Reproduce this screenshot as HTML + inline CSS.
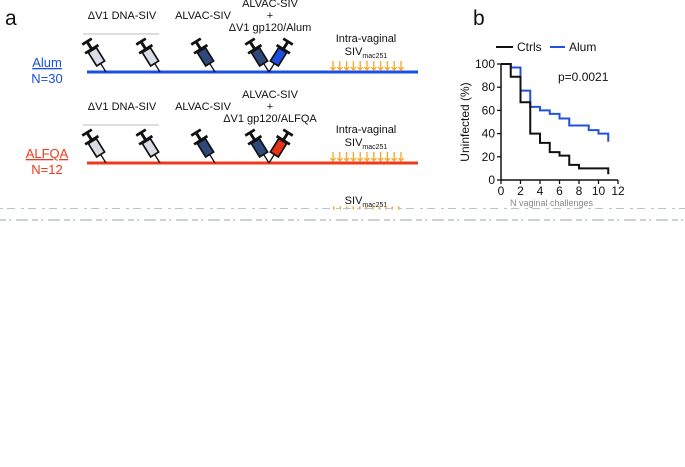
<!DOCTYPE html>
<html><head><meta charset="utf-8"><style>
html,body{margin:0;padding:0;background:#fff;}
svg{display:block;font-family:"Liberation Sans",sans-serif;}
</style></head><body>
<svg id="fig" width="685" height="467" viewBox="0 0 685 467">
<defs>
<g id="syr-base">
  <line x1="0" y1="0" x2="0" y2="-9" stroke="#111" stroke-width="1.2"/>
  <line x1="-7" y1="-24" x2="7" y2="-24" stroke="#111" stroke-width="2.4"/>
  <line x1="0" y1="-24" x2="0" y2="-31" stroke="#111" stroke-width="2.6"/>
  <line x1="-5" y1="-32" x2="5" y2="-32" stroke="#111" stroke-width="2.4"/>
</g>
</defs>
<text x="5" y="25" font-size="21" fill="#111">a</text>
<text x="473" y="25" font-size="21" fill="#111">b</text>
<g id="schem"></g>
<g id="chart"></g>
<g>
  <text x="366" y="204" font-size="11" text-anchor="middle" fill="#111">SIV<tspan font-size="7" dy="3">mac251</tspan></text>
  <line x1="333" y1="208" x2="402" y2="208" stroke="#f5a623" stroke-width="3" stroke-dasharray="1.5,5"/>
  <line x1="0" y1="208.5" x2="685" y2="208.5" stroke="#b8c4cc" stroke-width="1" stroke-dasharray="3,4,8,6"/>
  <line x1="0" y1="220" x2="685" y2="220" stroke="#b0b8c0" stroke-width="1.2" stroke-dasharray="6,3,2,5,12,4"/>
  <text x="510" y="206" font-size="9" fill="#888">N   vaginal challenges</text>
</g>
</svg>
<script>
var NS='http://www.w3.org/2000/svg';
var xTicks=[0,2,4,6,8,10,12];
var yTicks=[0,20,40,60,80,100];
var ctrlTimes=[0,1,2,3,4,5,6,7,8,11];
var ctrlVals=[100,89,67,40,32,24,21,13,10,5];
var alumTimes=[0,1,2,3,4,5,6,7,9,10,11];
var alumVals=[100,97,77,63,60,57,53,47,43,40,33];
var endTime=11;
function mk(tag,attrs,parent){var e=document.createElementNS(NS,tag);for(var k in attrs)e.setAttribute(k,attrs[k]);parent.appendChild(e);return e;}
var sch=document.getElementById('schem');
var rows=[{y:72,color:'#1a4fe0',name:'Alum',n:'N=30',last:'#1a4fe0',gp:'\u0394V1 gp120/Alum',top:0},
          {y:163,color:'#f0391a',name:'ALFQA',n:'N=12',last:'#e8321a',gp:'\u0394V1 gp120/ALFQA',top:91}];
rows.forEach(function(r,i){
  var g=mk('g',{},sch);
  
  
  var ln=mk('line',{x1:87,y1:r.y,x2:418,y2:r.y,stroke:r.color,'stroke-width':3},g);
  
  
  var t=mk('text',{x:47,y:r.y-5,'font-size':13,'text-anchor':'middle',fill:r.color,'text-decoration':'underline'},g);t.textContent=r.name;
  
  
  var t2=mk('text',{x:47,y:r.y+11,'font-size':13,'text-anchor':'middle',fill:r.color},g);t2.textContent=r.n;
  
  
  var o=r.top;
  mk('text',{x:122,y:o+19,'font-size':11,'text-anchor':'middle',fill:'#111'},g).textContent='\u0394V1 DNA-SIV';
  mk('line',{x1:83,y1:o+34,x2:159,y2:o+34,stroke:'#bbb','stroke-width':1},g);
  mk('text',{x:203,y:o+19,'font-size':11,'text-anchor':'middle',fill:'#111'},g).textContent='ALVAC-SIV';
  mk('text',{x:270,y:o+7,'font-size':11,'text-anchor':'middle',fill:'#111'},g).textContent='ALVAC-SIV';
  mk('text',{x:270,y:o+19,'font-size':11,'text-anchor':'middle',fill:'#111'},g).textContent='+';
  mk('text',{x:270,y:o+31,'font-size':11,'text-anchor':'middle',fill:'#111'},g).textContent=r.gp;
  mk('text',{x:366,y:o+42,'font-size':11,'text-anchor':'middle',fill:'#111'},g).textContent='Intra-vaginal';
  var s=mk('text',{x:366,y:o+55,'font-size':11,'text-anchor':'middle',fill:'#111'},g);
  s.appendChild(document.createTextNode('SIV'));
  var ts=mk('tspan',{'font-size':7,dy:3},s);ts.textContent='mac251';
  var syr=[[106,-32,'#d8dce4'],[160,-32,'#d8dce4'],[215,-32,'#2e4a7a'],[269,-32,'#2e4a7a'],[269,32,r.last]];
  syr.forEach(function(sy){
    var sg=mk('g',{transform:'translate('+sy[0]+','+r.y+') rotate('+sy[1]+') scale(1.12)'},g);
    
    
    mk('rect',{x:-4.2,y:-23,width:8.4,height:14,fill:sy[2],stroke:'#111','stroke-width':1.5},sg);
    mk('use',{href:'#syr-base'},sg);
  });
  for(var k=0;k<11;k++){
    var x=333+k*6.8;
    var a=mk('path',{d:'M'+x+','+(r.y-11)+' L'+x+','+(r.y-2)+' M'+(x-2.6)+','+(r.y-5)+' L'+x+','+(r.y-2)+' L'+(x+2.6)+','+(r.y-5),stroke:'#f5a623','stroke-width':1.3,fill:'none'},g);
    
    
  }
});
var ch=document.getElementById('chart');
var X0=501,X1=618,Y0=180,Y1=64;
function sx(v){return X0+(v-0)/(12-0)*(X1-X0);}
function sy(v){return Y0-(v-0)/(100-0)*(Y0-Y1);}
var ax=mk('line',{x1:X0,y1:Y0,x2:X1,y2:Y0,stroke:'#111','stroke-width':1.5},ch);


var ay=mk('line',{x1:X0,y1:Y0,x2:X0,y2:Y1,stroke:'#111','stroke-width':1.5},ch);


xTicks.forEach(function(v){
  mk('line',{x1:sx(v),y1:Y0,x2:sx(v),y2:Y0+4,stroke:'#111','stroke-width':1.3},ch);
  var t=mk('text',{x:sx(v),y:Y0+15,'font-size':12,'text-anchor':'middle',fill:'#111'},ch);t.textContent=v;
  
  
});
yTicks.forEach(function(v){
  mk('line',{x1:X0-4,y1:sy(v),x2:X0,y2:sy(v),stroke:'#111','stroke-width':1.3},ch);
  var t=mk('text',{x:X0-6,y:sy(v)+4,'font-size':12,'text-anchor':'end',fill:'#111'},ch);t.textContent=v;
  
  
});
var yt=mk('text',{x:0,y:0,'font-size':12,'text-anchor':'middle',fill:'#111',transform:'translate(469,122) rotate(-90)'},ch);
yt.textContent='Uninfected (%)';


function step(times,vals,color,name){
  var d='M'+sx(times[0])+','+sy(vals[0]);
  for(var i=1;i!==times.length;i++){d+=' H'+sx(times[i])+' V'+sy(vals[i]);}
  d+=' H'+sx(endTime);
  var p=mk('path',{d:d,fill:'none',stroke:color,'stroke-width':2},ch);
  
  
}
step(alumTimes,alumVals,'#2450e0','series-alum');
step(ctrlTimes,ctrlVals,'#111','series-ctrls');
var pv=mk('text',{x:558,y:81,'font-size':12,fill:'#111'},ch);pv.textContent='p=0.0021';


var l1=mk('g',{},ch);


mk('line',{x1:496,y1:47,x2:513,y2:47,stroke:'#111','stroke-width':2},l1);
mk('text',{x:517,y:51,'font-size':12,fill:'#111'},l1).textContent='Ctrls';
var l2=mk('g',{},ch);


mk('line',{x1:550,y1:47,x2:565,y2:47,stroke:'#2450e0','stroke-width':2},l2);
mk('text',{x:569,y:51,'font-size':12,fill:'#111'},l2).textContent='Alum';
</script>
</body></html>
